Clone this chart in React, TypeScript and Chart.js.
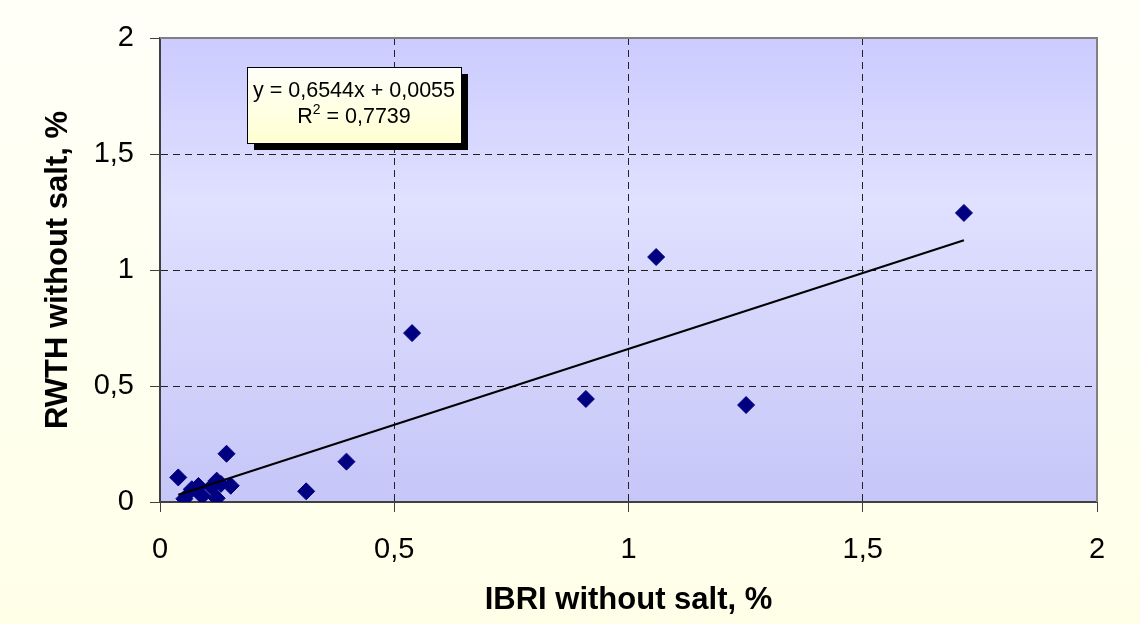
import React, { useEffect, useRef } from "react";
import { Chart, registerables } from "chart.js";

Chart.register(...registerables);

const xValues = [0.039, 0.052, 0.068, 0.082, 0.09, 0.11, 0.121, 0.121, 0.13, 0.142, 0.151, 0.312, 0.398, 0.538, 0.909, 1.059, 1.251, 1.716];
const yValues = [0.106, 0.014, 0.055, 0.069, 0.026, 0.066, 0.092, 0.016, 0.078, 0.208, 0.07, 0.046, 0.174, 0.728, 0.444, 1.056, 0.418, 1.246];
const slope = 0.6544;
const intercept = 0.0055;
const rSquared = "0,7739";
const equationText = "y = 0,6544x + 0,0055";
const xTitle = "IBRI without salt, %";
const yTitle = "RWTH without salt, %";
const axisMin = 0;
const axisMax = 2;
const axisStep = 0.5;

const FONT = "'Liberation Sans', Arial, sans-serif";

const fmt = (v: number | string) => String(v).replace(".", ",");

const bgPlugin = {
  id: "bgPlugin",
  beforeDraw(chart: any) {
    const { ctx, width, height, chartArea } = chart;
    ctx.save();
    const g = ctx.createLinearGradient(0, 0, 0, height);
    g.addColorStop(0, "#FFFFF8");
    g.addColorStop(1, "#FFFFE8");
    ctx.fillStyle = g;
    ctx.fillRect(0, 0, width, height);
    const { left, top, right, bottom } = chartArea;
    const pg = ctx.createLinearGradient(0, top, 0, bottom);
    pg.addColorStop(0, "#CBCBFF");
    pg.addColorStop(0.35, "#E0E0FF");
    pg.addColorStop(1, "#C6C6F8");
    ctx.fillStyle = pg;
    ctx.fillRect(left, top, right - left, bottom - top);
    ctx.restore();
  },
  afterDraw(chart: any) {
    const { ctx, chartArea } = chart;
    const { left, top, right, bottom } = chartArea;
    ctx.save();
    ctx.strokeStyle = "#808080";
    ctx.lineWidth = 2;
    ctx.beginPath();
    ctx.moveTo(left, top);
    ctx.lineTo(right, top);
    ctx.lineTo(right, bottom);
    ctx.stroke();

    // equation box
    const bx = 247, by = 67, bw = 214, bh = 76;
    ctx.fillStyle = "#000000";
    ctx.fillRect(bx + 7, by + 7, bw, bh);
    const bg = ctx.createLinearGradient(0, by, 0, by + bh);
    bg.addColorStop(0, "#FFFFFA");
    bg.addColorStop(1, "#FFFFD2");
    ctx.fillStyle = bg;
    ctx.fillRect(bx, by, bw, bh);
    ctx.strokeStyle = "#000000";
    ctx.lineWidth = 1;
    ctx.strokeRect(bx + 0.5, by + 0.5, bw, bh);
    ctx.fillStyle = "#000000";
    ctx.font = `21.5px ${FONT}`;
    ctx.textAlign = "center";
    ctx.textBaseline = "middle";
    const cx = bx + bw / 2;
    ctx.fillText(equationText, cx, by + 24);
    // R² line
    const part1 = "R";
    const part3 = " = " + rSquared;
    ctx.font = `21.5px ${FONT}`;
    const w1 = ctx.measureText(part1).width;
    const w3 = ctx.measureText(part3).width;
    ctx.font = `14px ${FONT}`;
    const w2 = ctx.measureText("2").width;
    const total = w1 + w2 + w3;
    let sx = cx - total / 2;
    const ly = by + 50;
    ctx.textAlign = "left";
    ctx.font = `21.5px ${FONT}`;
    ctx.fillText(part1, sx, ly);
    sx += w1;
    ctx.font = `14px ${FONT}`;
    ctx.fillText("2", sx, ly - 7);
    sx += w2;
    ctx.font = `21.5px ${FONT}`;
    ctx.fillText(part3, sx, ly);
    ctx.restore();
  },
};

export default function App() {
  const ref = useRef<HTMLCanvasElement>(null);
  useEffect(() => {
    document.body.style.margin = "0";
    const points = xValues.map((x, i) => ({ x, y: yValues[i] }));
    const xMinData = Math.min(...xValues);
    const xMaxData = Math.max(...xValues);
    const trend = [
      { x: xMinData, y: slope * xMinData + intercept },
      { x: xMaxData, y: slope * xMaxData + intercept },
    ];
    const gridColor = (c: any) => {
      const v = c.tick ? c.tick.value : null;
      if (v === axisMin || v === axisMax) return "rgba(0,0,0,0)";
      return "#222222";
    };
    const scaleCommon = (title: string, isY: boolean) => ({
      type: "linear" as const,
      min: axisMin,
      max: axisMax,
      ticks: {
        stepSize: axisStep,
        color: "#000000",
        font: { family: FONT, size: 29 },
        padding: isY ? 16 : 21,
        callback: (v: any) => fmt(v),
      },
      grid: {
        color: gridColor,
        lineWidth: 1,
        drawTicks: true,
        tickLength: 10,
        tickColor: "#404040",
        tickBorderDash: [],
        tickWidth: 1,
      },
      border: {
        display: true,
        color: "#404040",
        width: 2,
        dash: [7, 5],
      },
      title: {
        display: true,
        text: title,
        color: "#000000",
        font: { family: FONT, size: 31, weight: "bold" as const },
        padding: isY ? { top: 40, bottom: 0 } : { top: 0, bottom: 5 },
      },
      afterFit: (s: any) => {
        if (isY) s.width = 160;
        else s.height = 122;
      },
    });
    const chart = new Chart(ref.current!, {
      type: "scatter",
      data: {
        datasets: [
          {
            type: "line",
            data: trend,
            borderColor: "#000000",
            borderWidth: 2,
            pointRadius: 0,
            fill: false,
            showLine: true,
          } as any,
          {
            type: "scatter",
            data: points,
            pointStyle: "rectRot",
            pointRadius: 8.5,
            backgroundColor: "#000080",
            borderColor: "#000080",
            borderWidth: 1,
          },
        ],
      },
      options: {
        animation: false,
        responsive: false,
        layout: { padding: { top: 38, right: 43, left: 0, bottom: 0 } },
        plugins: { legend: { display: false }, tooltip: { enabled: false } },
        scales: {
          x: scaleCommon(xTitle, false) as any,
          y: scaleCommon(yTitle, true) as any,
        },
      },
      plugins: [bgPlugin],
    });
    return () => chart.destroy();
  }, []);
  return (
    <div style={{ width: 1140, height: 624 }}>
      <canvas ref={ref} width={1140} height={624} style={{ display: "block" }} />
    </div>
  );
}
